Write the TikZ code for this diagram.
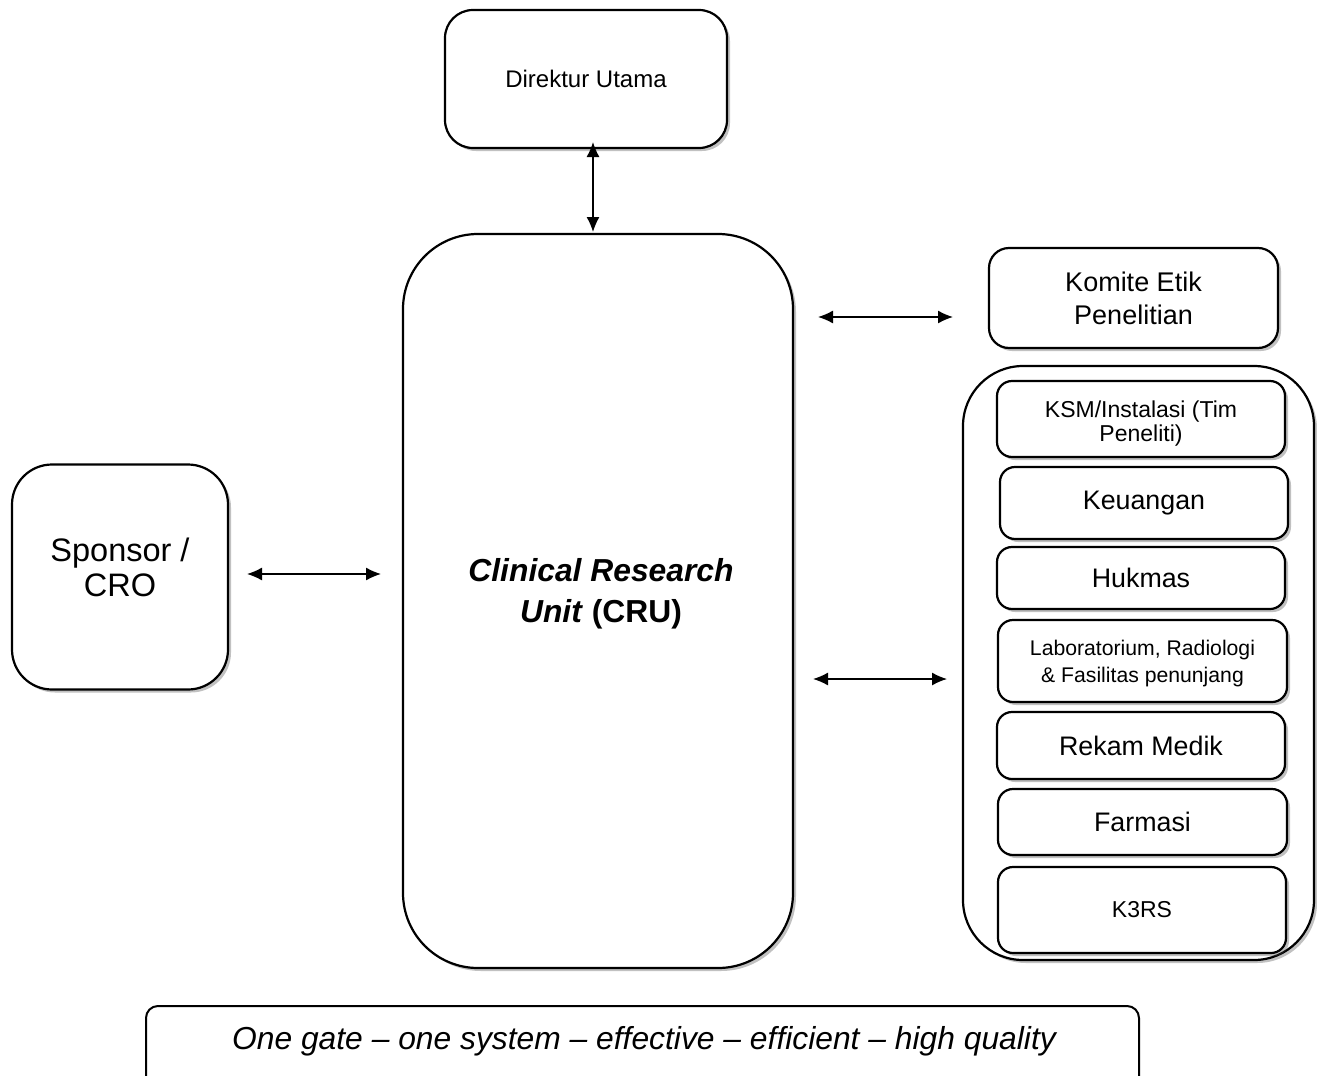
\documentclass[tikz,border=0pt]{standalone}
\usepackage{fontspec}
\setmainfont{Liberation Sans}
\usetikzlibrary{arrows.meta,shadows}
\tikzset{
  box/.style={draw, line width=2.2pt, rounded corners=#1, fill=white,
    drop shadow={shadow xshift=3pt, shadow yshift=-3pt, opacity=0.35, fill=black!70},
    align=center, inner sep=0pt},
  box/.default=18pt,
  plain/.style={draw, line width=2pt, rounded corners=#1, fill=white, inner sep=0pt},
  arr/.style={line width=1.3pt, {Latex[length=15pt,width=13pt]}-{Latex[length=15pt,width=13pt]}},
  fA/.style={font=\fontsize{24}{28}\selectfont},
  fB/.style={font=\fontsize{26.8}{33}\selectfont},
  fBB/.style={font=\fontsize{27}{33}\selectfont},
  fC/.style={font=\fontsize{32.5}{35}\selectfont},
  fS/.style={font=\fontsize{23}{24}\selectfont},
}
\begin{document}
\begin{tikzpicture}[x=1pt,y=-1pt]
\useasboundingbox (0,0) rectangle (1317,1076);
% main boxes
\node[box=28pt, minimum width=282pt, minimum height=138pt, fA] (dir) at (586,79) {Direktur Utama};
\node[box=75pt, minimum width=390pt, minimum height=734pt] (cru) at (598,601) {};
\node[font=\fontsize{31.8}{41}\selectfont\bfseries, align=center] (crutext) at (601,594) {\textit{Clinical Research}\\\textit{Unit} (CRU)};
\node[box=40pt, minimum width=216pt, minimum height=225pt] (spon) at (120,577) {};
\node[fC, align=center] (spontext) at (120,567) {Sponsor /\\CRO};
\node[box=20pt, minimum width=289pt, minimum height=100pt, fBB] (komite) at (1133.5,298) {Komite Etik\\Penelitian};
% group
\node[box=60pt, minimum width=351pt, minimum height=594pt] (grp) at (1138.5,663) {};
\node[box=15pt, minimum width=288pt, minimum height=76pt] (ksm) at (1141,419) {};
\node[fS, align=center] (ksmtext) at (1141,424) {KSM/Instalasi (Tim\\Peneliti)};
\node[box=15pt, minimum width=288pt, minimum height=72pt, fB] (keu) at (1144,503) {Keuangan};
\node[box=15pt, minimum width=288pt, minimum height=62pt, fB] (huk) at (1141,578) {Hukmas};
\node[box=15pt, minimum width=289pt, minimum height=82pt] (lab) at (1142.5,661) {};
\node[font=\fontsize{21.2}{27}\selectfont, align=center] (labtext) at (1142.5,664) {Laboratorium, Radiologi\\\& Fasilitas penunjang};
\node[box=15pt, minimum width=288pt, minimum height=67pt, fB] (rek) at (1141,745.5) {Rekam Medik};
\node[box=15pt, minimum width=289pt, minimum height=66pt, fB] (far) at (1142.5,822) {Farmasi};
\node[box=15pt, minimum width=288pt, minimum height=86pt, fS] (k3) at (1142,910) {K3RS};
% tagline
\node[plain=12pt, minimum width=993pt, minimum height=90pt] (tag) at (642.5,1051) {};
\node[font=\fontsize{31.8}{34}\selectfont\itshape] (tagtext) at (644,1041) {One gate -- one system -- effective -- efficient -- high quality};
% arrow ends
\coordinate (d1) at (593,142);
\coordinate (d2) at (593,232);
\coordinate (k1) at (818,317);
\coordinate (k2) at (953,317);
\coordinate (s1) at (247,574);
\coordinate (s2) at (381,574);
\coordinate (g1) at (813,679);
\coordinate (g2) at (947,679);
\draw[arr] (d1) -- (d2);
\draw[arr] (k1) -- (k2);
\draw[arr] (s1) -- (s2);
\draw[arr] (g1) -- (g2);
\end{tikzpicture}
\end{document}
